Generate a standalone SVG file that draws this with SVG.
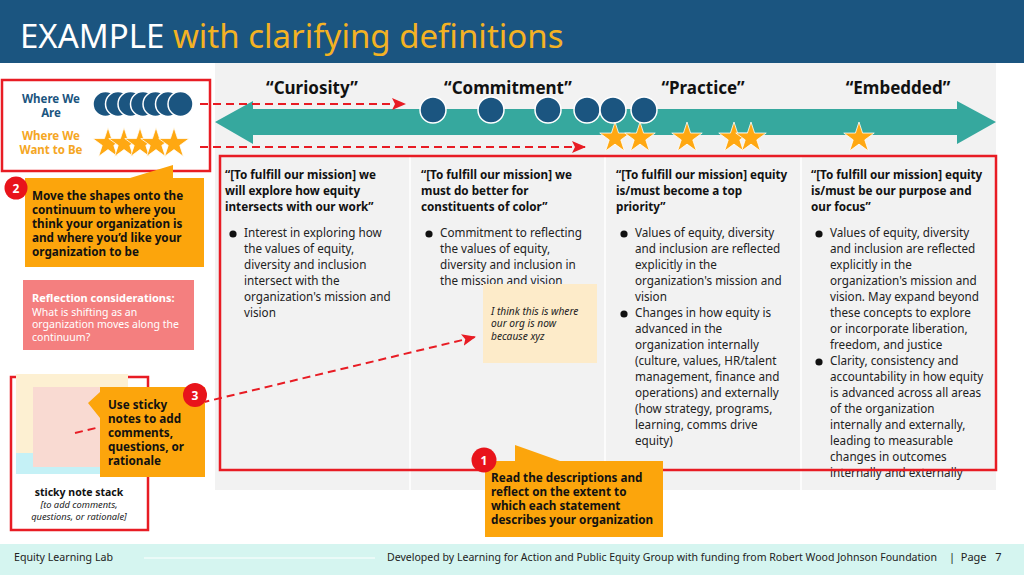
<svg xmlns="http://www.w3.org/2000/svg" xmlns:xlink="http://www.w3.org/1999/xlink" width="1024" height="575" viewBox="0 0 1024 575">
<style>
text{font-family:"Noto Sans","Open Sans","DejaVu Sans",sans-serif;}
.hd{font-size:11.7px;font-weight:bold;fill:#111;}
.bd{font-size:11.7px;fill:#222;}
.co{font-size:11.7px;font-weight:bold;fill:#111;}
.stage{font-size:17px;font-weight:bold;fill:#111;text-anchor:middle;}
.badge{fill:#E8141B;}
.bn{font-size:12px;font-weight:bold;fill:#fff;text-anchor:middle;}
.callout{fill:#FCA50C;}
.redbox{fill:none;stroke:#E81C24;stroke-width:2.5;}
.dash{fill:none;stroke:#E81C24;stroke-width:2;stroke-dasharray:8 5;}
.dot{fill:#1B5580;stroke:#fff;stroke-width:1.5;}
.st{fill:#FFA812;stroke:#fff;stroke-width:0.8;}
.foot{font-size:11px;fill:#222;}
.lg{font-size:11.5px;font-weight:bold;text-anchor:middle;}
</style>
<defs>
<path id="star" d="M0,-16 L3.59,-4.94 L15.22,-4.94 L5.81,1.89 L9.40,12.94 L0,6.11 L-9.40,12.94 L-5.81,1.89 L-15.22,-4.94 L-3.59,-4.94 Z"/>
<marker id="ah" viewBox="0 0 14 12" refX="13" refY="6" markerWidth="14" markerHeight="12" markerUnits="userSpaceOnUse" orient="auto">
<path d="M0,0 L14,6 L0,12 L3,6 Z" fill="#E81C24"/>
</marker>
</defs>
<rect x="0" y="0" width="1024" height="575" fill="#fff"/>
<!-- header -->
<g id="header">
<rect x="0" y="0" width="1024" height="63" fill="#1B5580"/>
<text x="20" y="48" font-size="33" fill="#fff">EXAMPLE <tspan fill="#F4B223">with clarifying definitions</tspan></text>
</g>
<!-- panel -->
<g id="panel">
<rect x="215" y="63" width="781" height="427" fill="#F2F2F2"/>
<line x1="410" y1="157" x2="410" y2="490" stroke="#fff" stroke-width="1.5"/>
<line x1="605" y1="157" x2="605" y2="490" stroke="#fff" stroke-width="1.5"/>
<line x1="801" y1="157" x2="801" y2="490" stroke="#fff" stroke-width="1.5"/>
</g>
<g id="continuum">
<polygon points="215,122 253,101 253,109 957,109 957,101 996,122 957,144 957,135 253,135 253,144" fill="#36A89E"/>
<text class="stage" x="312" y="94">“Curiosity”</text>
<text class="stage" x="508" y="94">“Commitment”</text>
<text class="stage" x="703" y="94">“Practice”</text>
<text class="stage" x="898" y="94">“Embedded”</text>
</g>
<g id="placed-circles">
<circle class="dot" cx="433" cy="110" r="13"/>
<circle class="dot" cx="491" cy="110" r="13"/>
<circle class="dot" cx="548" cy="110" r="13"/>
<circle class="dot" cx="587" cy="110" r="13"/>
<circle class="dot" cx="613" cy="110" r="13"/>
<circle class="dot" cx="644" cy="110" r="13"/>
</g>
<g id="placed-stars">
<use xlink:href="#star" class="st" x="615" y="138"/>
<use xlink:href="#star" class="st" x="640" y="138"/>
<use xlink:href="#star" class="st" x="687" y="138"/>
<use xlink:href="#star" class="st" x="734" y="138"/>
<use xlink:href="#star" class="st" x="751" y="138"/>
<use xlink:href="#star" class="st" x="859" y="138"/>
</g>
<!-- columns -->
<g id="col1">
<text class="hd" x="225"><tspan x="225" y="179">“[To fulfill our mission] we</tspan><tspan x="225" y="195">will explore how equity</tspan><tspan x="225" y="211">intersects with our work”</tspan></text>
<circle cx="233" cy="234" r="3.6" fill="#111"/>
<text class="bd"><tspan x="244" y="237">Interest in exploring how</tspan><tspan x="244" y="253">the values of equity,</tspan><tspan x="244" y="269">diversity and inclusion</tspan><tspan x="244" y="285">intersect with the</tspan><tspan x="244" y="301">organization's mission and</tspan><tspan x="244" y="317">vision</tspan></text>
</g>
<g id="col2">
<text class="hd"><tspan x="421" y="179">“[To fulfill our mission] we</tspan><tspan x="421" y="195">must do better for</tspan><tspan x="421" y="211">constituents of color”</tspan></text>
<circle cx="429" cy="234" r="3.6" fill="#111"/>
<text class="bd"><tspan x="440" y="237">Commitment to reflecting</tspan><tspan x="440" y="253">the values of equity,</tspan><tspan x="440" y="269">diversity and inclusion in</tspan><tspan x="440" y="285">the mission and vision</tspan></text>
</g>
<g id="col3">
<text class="hd"><tspan x="616" y="179">“[To fulfill our mission] equity</tspan><tspan x="616" y="195">is/must become a top</tspan><tspan x="616" y="211">priority”</tspan></text>
<circle cx="624" cy="234" r="3.6" fill="#111"/>
<circle cx="624" cy="314" r="3.6" fill="#111"/>
<text class="bd"><tspan x="635" y="237">Values of equity, diversity</tspan><tspan x="635" y="253">and inclusion are reflected</tspan><tspan x="635" y="269">explicitly in the</tspan><tspan x="635" y="285">organization's mission and</tspan><tspan x="635" y="301">vision</tspan><tspan x="635" y="317">Changes in how equity is</tspan><tspan x="635" y="333">advanced in the</tspan><tspan x="635" y="349">organization internally</tspan><tspan x="635" y="365">(culture, values, HR/talent</tspan><tspan x="635" y="381">management, finance and</tspan><tspan x="635" y="397">operations) and externally</tspan><tspan x="635" y="413">(how strategy, programs,</tspan><tspan x="635" y="429">learning, comms drive</tspan><tspan x="635" y="445">equity)</tspan></text>
</g>
<g id="col4">
<text class="hd"><tspan x="811" y="179">“[To fulfill our mission] equity</tspan><tspan x="811" y="195">is/must be our purpose and</tspan><tspan x="811" y="211">our focus”</tspan></text>
<circle cx="819" cy="234" r="3.6" fill="#111"/>
<circle cx="819" cy="362" r="3.6" fill="#111"/>
<text class="bd"><tspan x="830" y="237">Values of equity, diversity</tspan><tspan x="830" y="253">and inclusion are reflected</tspan><tspan x="830" y="269">explicitly in the</tspan><tspan x="830" y="285">organization's mission and</tspan><tspan x="830" y="301">vision. May expand beyond</tspan><tspan x="830" y="317">these concepts to explore</tspan><tspan x="830" y="333">or incorporate liberation,</tspan><tspan x="830" y="349">freedom, and justice</tspan><tspan x="830" y="365">Clarity, consistency and</tspan><tspan x="830" y="381">accountability in how equity</tspan><tspan x="830" y="397">is advanced across all areas</tspan><tspan x="830" y="413">of the organization</tspan><tspan x="830" y="429">internally and externally,</tspan><tspan x="830" y="445">leading to measurable</tspan><tspan x="830" y="461">changes in outcomes</tspan><tspan x="830" y="477">internally and externally</tspan></text>
</g>
<rect id="columns-frame" class="redbox" x="220" y="156" width="776" height="314"/>
<!-- legend box -->
<g id="legend">
<rect class="redbox" x="2" y="80" width="208" height="91"/>
<text class="lg" fill="#1B5580"><tspan x="51" y="102.5">Where We</tspan><tspan x="51" y="117">Are</tspan></text>
<text class="lg" fill="#F5A623"><tspan x="51" y="139.5">Where We</tspan><tspan x="51" y="154">Want to Be</tspan></text>
<circle class="dot" cx="105.5" cy="104" r="12.5"/>
<circle class="dot" cx="118" cy="104" r="12.5"/>
<circle class="dot" cx="130.5" cy="104" r="12.5"/>
<circle class="dot" cx="143" cy="104" r="12.5"/>
<circle class="dot" cx="155.5" cy="104" r="12.5"/>
<circle class="dot" cx="168" cy="104" r="12.5"/>
<circle class="dot" cx="180.5" cy="104" r="12.5"/>
<use xlink:href="#star" class="st" x="108" y="143.5"/>
<use xlink:href="#star" class="st" x="124" y="143.5"/>
<use xlink:href="#star" class="st" x="140" y="143.5"/>
<use xlink:href="#star" class="st" x="156" y="143.5"/>
<use xlink:href="#star" class="st" x="174" y="143.5"/>
</g>
<g id="reflection">
<rect x="23" y="280" width="171" height="70" fill="#F47F7F"/>
<text x="32" y="302" font-size="11" font-weight="bold" fill="#fff">Reflection considerations:</text>
<text font-size="10.5" fill="#fff"><tspan x="32" y="315.5">What is shifting as an</tspan><tspan x="32" y="328">organization moves along the</tspan><tspan x="32" y="340.5">continuum?</tspan></text>
</g>
<g id="sticky-stack">
<rect class="redbox" x="11" y="377" width="137" height="153" fill="#fff"/>
<rect x="16" y="382" width="112" height="92" fill="#C5F1F6"/>
<rect x="16" y="374" width="112" height="79" fill="#FDF0D2"/>
<rect x="33" y="387" width="110" height="80" fill="#F9DAD2"/>
<text x="79" y="496" font-size="10.5" font-weight="bold" fill="#111" text-anchor="middle">sticky note stack</text>
<text font-size="9.3" font-style="italic" fill="#222" text-anchor="middle"><tspan x="79" y="508">[to add comments,</tspan><tspan x="79" y="519.5">questions, or rationale]</tspan></text>
</g>
<g id="sticky-note">
<rect x="483" y="284" width="114" height="79" fill="#FDEBC9"/>
<text font-size="10.2" font-style="italic" fill="#222"><tspan x="491" y="314.5">I think this is where</tspan><tspan x="491" y="327">our org is now</tspan><tspan x="491" y="340">because xyz</tspan></text>
</g>
<!-- connectors -->
<g id="connectors">
<line class="dash" x1="200" y1="104" x2="405" y2="104" marker-end="url(#ah)"/>
<line class="dash" x1="200" y1="147" x2="585" y2="147" marker-end="url(#ah)"/>
<line class="dash" x1="75" y1="433" x2="475" y2="337" marker-end="url(#ah)"/>
</g>
<!-- callouts -->
<g id="callout2">
<polygon class="callout" points="25,178 130,178 173,165 173,178 204,178 204,267 25,267"/>
<text class="co"><tspan x="32" y="200">Move the shapes onto the</tspan><tspan x="32" y="214">continuum to where you</tspan><tspan x="32" y="228">think your organization is</tspan><tspan x="32" y="242">and where you’d like your</tspan><tspan x="32" y="256">organization to be</tspan></text>
<circle class="badge" cx="16" cy="188" r="11.5"/>
<text class="bn" x="16" y="192.5">2</text>
</g>
<g id="callout3">
<polygon class="callout" points="100,387 205,387 205,477 100,477 100,418 88,403 100,392"/>
<text class="co"><tspan x="108" y="409">Use sticky</tspan><tspan x="108" y="423">notes to add</tspan><tspan x="108" y="437">comments,</tspan><tspan x="108" y="451">questions, or</tspan><tspan x="108" y="465">rationale</tspan></text>
<circle class="badge" cx="195" cy="395" r="12"/>
<text class="bn" x="195" y="399.5">3</text>
</g>
<g id="callout1">
<polygon class="callout" points="485,461 515,461 515,445 560,461 663,461 663,537 485,537"/>
<text class="co"><tspan x="491" y="482">Read the descriptions and</tspan><tspan x="491" y="496">reflect on the extent to</tspan><tspan x="491" y="510">which each statement</tspan><tspan x="491" y="524">describes your organization</tspan></text>
<circle class="badge" cx="484" cy="460" r="12.5"/>
<text class="bn" x="484" y="464.5">1</text>
</g>
<!-- footer -->
<g id="footer">
<rect x="0" y="544" width="1024" height="31" fill="#D5F5F0"/>
<text class="foot" x="14" y="561" textLength="99" lengthAdjust="spacingAndGlyphs">Equity Learning Lab</text>
<line x1="144" y1="558" x2="375" y2="558" stroke="#fff" stroke-width="1"/>
<text class="foot" x="387" y="561" font-size="10.4" style="font-size:10.4px" textLength="550" lengthAdjust="spacingAndGlyphs">Developed by Learning for Action and Public Equity Group with funding from Robert Wood Johnson Foundation</text>
<text class="foot" x="949" y="561" xml:space="preserve">|  Page   7</text>
</g>
</svg>
